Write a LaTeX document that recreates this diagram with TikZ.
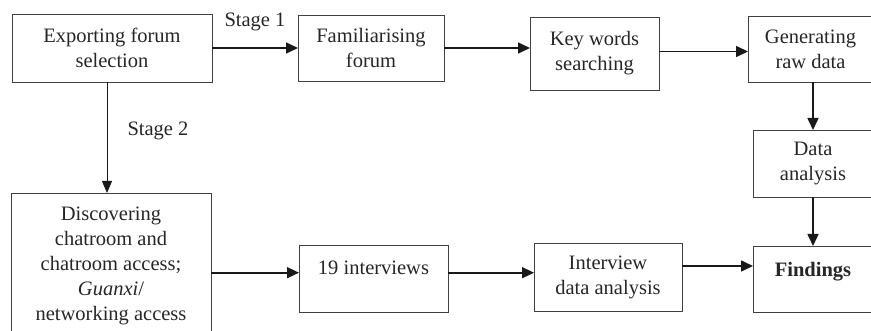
\documentclass[tikz,border=0pt]{standalone}
\usepackage{fontspec}
\setmainfont{Liberation Serif}
\usetikzlibrary{arrows.meta}
\newcommand*\stagefont{\fontsize{20.5}{25}\selectfont}
\tikzset{
    stagebox/.style   = {draw=black!75, line width=0.8pt, rectangle, align=center,
                    inner sep=0pt, outer sep=0pt, font=\stagefont, text=black!85},
    stagelabel/.style = {font=\stagefont, text=black!85},
    flow/.style       = {draw=black!90, line width=1.6pt, -{Triangle[length=12pt,width=11pt]}},
    thinflow/.style   = {draw=black!90, line width=0.8pt, -{Triangle[length=12pt,width=10pt]}},
  }

\begin{document}
\begin{tikzpicture}[x=1pt,y=-1pt]
    \useasboundingbox (0,0) rectangle (871,331);

    % stage 1: forum boxes along the top
    \node (expo)  [stagebox, minimum width=200pt, minimum height=68pt] at (112,48)    {Exporting forum\\selection};
    \node (famil) [stagebox, minimum width=146pt, minimum height=66pt] at (371,48)    {Familiarising\\forum};
    \node (keyw)  [stagebox, minimum width=129pt, minimum height=73pt] at (594.5,53.5) {Key words\\searching};
    \node (gener) [stagebox, minimum width=125pt, minimum height=66pt] at (810.5,49)  {Generating\\raw data};
    \node (datan) [stagebox, minimum width=120pt, minimum height=67pt] at (813,163.5)  {Data\\analysis};

    % stage 2: chatroom boxes along the bottom
    \node (disc)    [stagebox, minimum width=200pt, inner ysep=14pt, anchor=north] at (111,193)
        {Discovering\\chatroom and\\chatroom access;\\\textit{Guanxi}/\\networking access};
    \node (inter19) [stagebox, minimum width=149pt, minimum height=67pt,
                     text height=14pt, text depth=21pt] at (373.5,278.5) {19 interviews};
    \node (intda)   [stagebox, minimum width=148pt, minimum height=68pt] at (608,277) {Interview\\data analysis};
    \node (findg)   [stagebox, minimum width=120pt, minimum height=66pt,
                     text height=14pt, text depth=18pt] at (813,279) {\textbf{Findings}};

    % stage labels
    \node (stage1) [stagelabel] at (255,22)  {Stage 1};
    \node (stage2) [stagelabel] at (158,131) {Stage 2};

    % connectors
    \draw[flow] (expo.east) -- (famil.west);
    \draw[flow] (famil.east) -- (famil.east -| keyw.west);
    \draw[flow] ([yshift=2pt]keyw.east) -- ([yshift=2pt]keyw.east -| gener.west);
    \draw[flow] (datan.north |- gener.south) -- (datan.north);
    \draw[flow] (datan.south) -- (findg.north);
    \draw[thinflow] ([xshift=-5pt]expo.south) -- ([xshift=-5pt]expo.south |- disc.north);
    \draw[flow] (disc.east |- inter19.mid west) -- (inter19.mid west);
    \draw[flow] (inter19.mid east) -- (inter19.mid east -| intda.west);
    \draw[flow] ([yshift=11pt]intda.east) -- ([yshift=11pt]intda.east -| findg.west);
\end{tikzpicture}
\end{document}
